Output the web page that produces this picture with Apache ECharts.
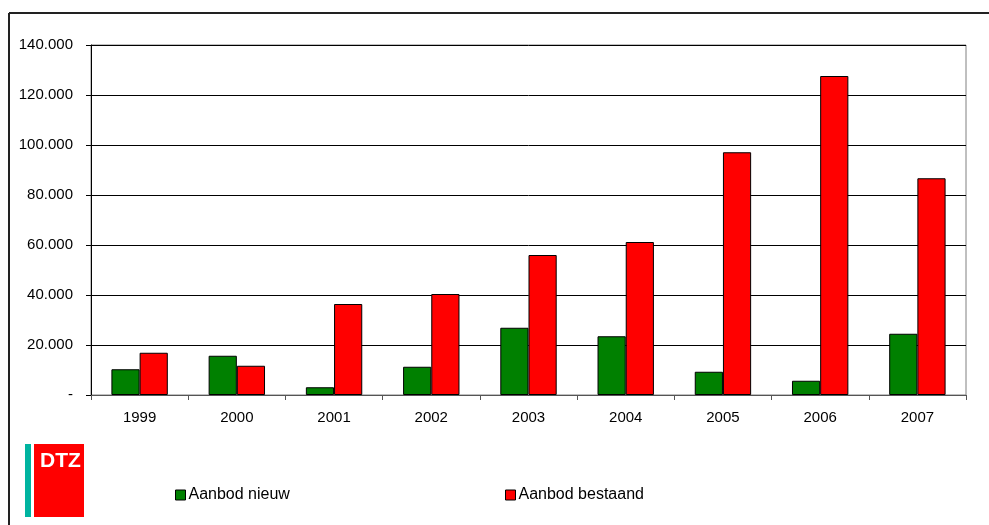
<!DOCTYPE html>
<html>
<head>
<meta charset="utf-8">
<script src="https://cdn.jsdelivr.net/npm/echarts@6/dist/echarts.min.js"></script>
<style>
  html, body { margin: 0; padding: 0; background: #fff; }
  #chart { width: 989px; height: 525px; }
</style>
</head>
<body>
<div id="chart"></div>
<script>
// Offered floor space per year: new vs existing stock
const years = ['1999', '2000', '2001', '2002', '2003', '2004', '2005', '2006', '2007'];
const aanbodNieuw = [10300, 15700, 3100, 11300, 26900, 23500, 9300, 5700, 24500];
const aanbodBestaand = [16900, 11700, 36400, 40400, 56000, 61200, 97100, 127600, 86700];
const seriesNames = ['Aanbod nieuw', 'Aanbod bestaand'];

const font = '"Liberation Sans", Arial, sans-serif';

function fmtThousands(v) {
  if (v === 0) return '-';
  return String(v).replace(/\B(?=(\d{3})+(?!\d))/g, '.');
}

const chart = echarts.init(document.getElementById('chart'), null, { renderer: 'canvas' });

const legendBase = {
  icon: 'rect', itemWidth: 10, itemHeight: 10, itemGap: 4, padding: 0,
  textStyle: { fontFamily: font, fontSize: 16, color: '#000', padding: [0, 0, 0, -2] },
  itemStyle: { borderColor: '#000', borderWidth: 1 }
};

chart.setOption({
  animation: false,
  backgroundColor: '#fff',
  textStyle: { fontFamily: font },
  grid: {
    left: 91, right: 23, top: 45, bottom: 130,
    show: true, borderColor: '#808080', borderWidth: 1
  },
  legend: [
    Object.assign({ data: [seriesNames[0]], left: 175, top: 487 }, legendBase),
    Object.assign({ data: [seriesNames[1]], left: 505, top: 487 }, legendBase)
  ],
  xAxis: {
    type: 'category',
    data: years,
    axisLine: { show: true, lineStyle: { color: '#555', width: 1 } },
    axisTick: { show: true, length: 5, lineStyle: { color: '#555' } },
    axisLabel: { color: '#000', fontSize: 15, fontFamily: font, margin: 15 }
  },
  yAxis: {
    type: 'value',
    min: 0, max: 140000, interval: 20000,
    axisLine: { show: true, lineStyle: { color: '#000', width: 1 } },
    axisTick: { show: true, length: 5, lineStyle: { color: '#000' } },
    axisLabel: { color: '#000', fontSize: 15, fontFamily: font, margin: 18, formatter: fmtThousands },
    splitLine: { show: true, lineStyle: { color: '#000', width: 1 } }
  },
  series: [
    {
      name: seriesNames[0], type: 'bar', data: aanbodNieuw,
      barGap: '0%', barCategoryGap: '42%',
      itemStyle: { color: '#008000', borderColor: '#000', borderWidth: 1 }
    },
    {
      name: seriesNames[1], type: 'bar', data: aanbodBestaand,
      barGap: '0%', barCategoryGap: '42%',
      itemStyle: { color: '#ff0000', borderColor: '#000', borderWidth: 1 }
    }
  ],
  graphic: [
    // outer frame (top and left edges)
    { type: 'line', shape: { x1: 9, y1: 13, x2: 989, y2: 13 }, style: { stroke: '#222', lineWidth: 2 } },
    { type: 'line', shape: { x1: 9, y1: 13, x2: 9, y2: 525 }, style: { stroke: '#222', lineWidth: 2 } },
    // DTZ logo
    { type: 'rect', shape: { x: 25, y: 444, width: 6, height: 73 }, style: { fill: '#00b4a0' } },
    { type: 'rect', shape: { x: 34, y: 444, width: 50, height: 73 }, style: { fill: '#ff0000' } },
    { type: 'text', x: 40, y: 451, style: { text: 'DTZ', fill: '#fff', font: 'bold 21px ' + font } }
  ]
});
</script>
</body>
</html>
